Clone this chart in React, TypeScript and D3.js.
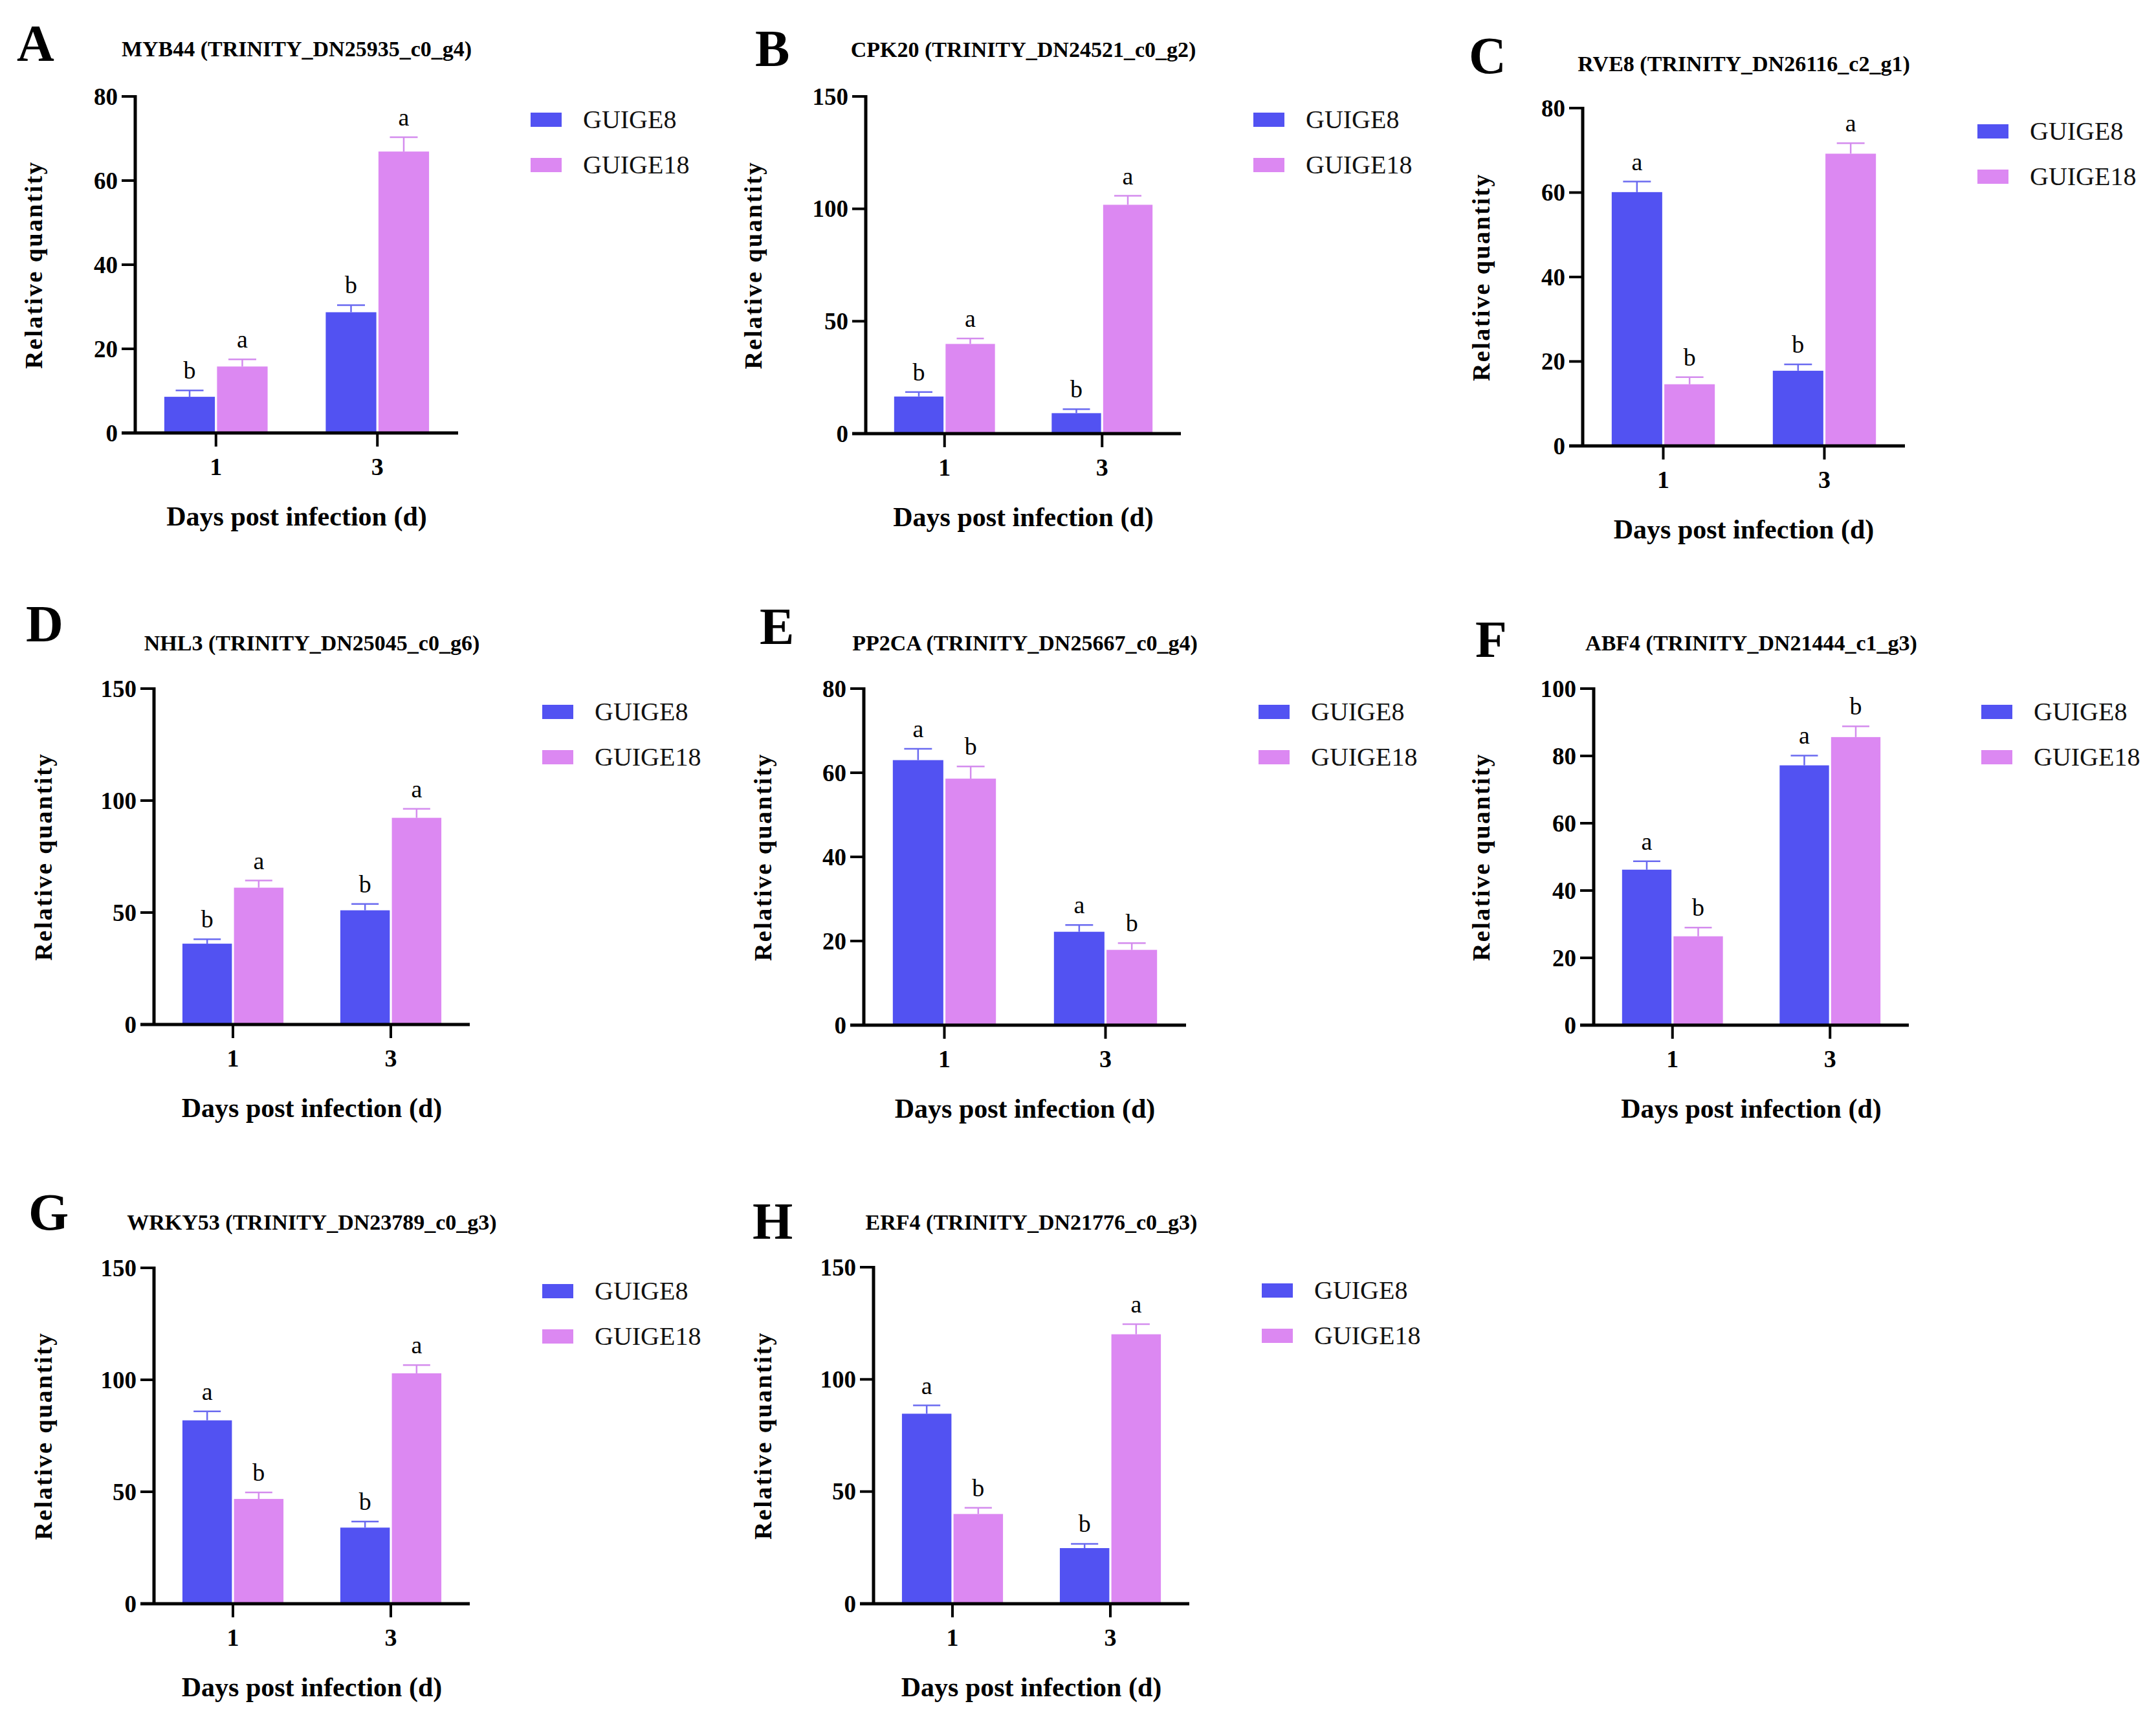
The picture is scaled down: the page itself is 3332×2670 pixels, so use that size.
import React from "react";
import * as d3 from "d3";

// ---------- data ----------
const days = ["1", "3"];
const seriesNames = ["GUIGE8", "GUIGE18"];
const seriesColors = ["#5252F2", "#DC88F2"];
const errColors = ["#6A6AF0", "#D48CEE"];

const panelLetters = ["A", "B", "C", "D", "E", "F", "G", "H"];
const panelTitles = [
  "MYB44 (TRINITY_DN25935_c0_g4)",
  "CPK20 (TRINITY_DN24521_c0_g2)",
  "RVE8 (TRINITY_DN26116_c2_g1)",
  "NHL3 (TRINITY_DN25045_c0_g6)",
  "PP2CA (TRINITY_DN25667_c0_g4)",
  "ABF4 (TRINITY_DN21444_c1_g3)",
  "WRKY53 (TRINITY_DN23789_c0_g3)",
  "ERF4 (TRINITY_DN21776_c0_g3)",
];
const yMaxes = [80, 150, 80, 150, 80, 100, 150, 150];
const yTickSteps = [20, 50, 20, 50, 20, 20, 50, 50];

// means per panel: [day1, day3]
const guige8Mean = [
  [8.6, 28.7], [16.5, 9.1], [60.1, 17.8], [36.1, 51.0],
  [63.0, 22.2], [46.2, 77.2], [81.9, 34.0], [84.7, 24.8],
];
const guige8Err = [
  [1.5, 1.7], [2.0, 1.8], [2.5, 1.5], [2.0, 2.8],
  [2.7, 1.6], [2.5, 2.9], [4.0, 2.7], [3.7, 1.9],
];
const guige18Mean = [
  [15.8, 66.9], [39.9, 101.8], [14.6, 69.2], [61.1, 92.3],
  [58.6, 17.9], [26.4, 85.6], [46.8, 102.9], [40.0, 120.1],
];
const guige18Err = [
  [1.7, 3.4], [2.4, 4.0], [1.7, 2.5], [3.2, 4.0],
  [2.9, 1.6], [2.6, 3.2], [2.9, 3.7], [2.8, 4.5],
];
const guige8Letters = [
  ["b", "b"], ["b", "b"], ["a", "b"], ["b", "b"],
  ["a", "a"], ["a", "a"], ["a", "b"], ["a", "b"],
];
const guige18Letters = [
  ["a", "a"], ["a", "a"], ["b", "a"], ["a", "a"],
  ["b", "b"], ["b", "b"], ["b", "a"], ["b", "a"],
];

const xAxisTitle = "Days post infection (d)";
const yAxisTitle = "Relative quantity";

// ---------- layout ----------
const W = 3332;
const H = 2670;
// [axisX, xEnd, top, base, letterX, letterBaseline, titleBaseline, yTitleX]
const layout = [
  [209, 708, 149, 669, 26, 94, 87, 65],
  [1338, 1825, 149, 670, 1167, 102, 88, 1177],
  [2446, 2944, 167, 689, 2270, 113, 110, 2302],
  [238, 726, 1064, 1583, 40, 991, 1005, 80],
  [1335, 1833, 1064, 1584, 1174, 995, 1005, 1192],
  [2463, 2950, 1064, 1584, 2280, 1015, 1005, 2302],
  [238, 726, 1959, 2478, 44, 1900, 1900, 80],
  [1350, 1838, 1958, 2478, 1163, 1914, 1900, 1192],
];

const FONT = "'Liberation Serif', 'Times New Roman', Times, serif";

function Panel({ i }: { i: number }) {
  const [axisX, xEnd, top, base, letterX, letterY, titleY, yTitleX] = layout[i];
  const yMax = yMaxes[i];
  const y = d3.scaleLinear().domain([0, yMax]).range([base, top]);
  const x0 = d3
    .scaleBand<string>()
    .domain(days)
    .range([axisX, xEnd])
    .paddingInner(0.36)
    .paddingOuter(0.18);
  const x1 = d3
    .scaleBand<string>()
    .domain(seriesNames)
    .range([0, x0.bandwidth()])
    .paddingInner(0.04)
    .paddingOuter(0);
  const ticks = d3.range(0, yMax + 0.001, yTickSteps[i]);
  const means = [guige8Mean[i], guige18Mean[i]];
  const errs = [guige8Err[i], guige18Err[i]];
  const letters = [guige8Letters[i], guige18Letters[i]];
  const cx = (axisX + xEnd) / 2;
  const cy = (top + base) / 2;
  const legX = xEnd + 112;

  return (
    <g>
      <text x={letterX} y={letterY} fontFamily={FONT} fontWeight="bold" fontSize={80} fill="#000">
        {panelLetters[i]}
      </text>
      <text x={cx} y={titleY} fontFamily={FONT} fontWeight="bold" fontSize={34} textAnchor="middle" fill="#000">
        {panelTitles[i]}
      </text>

      {/* bars */}
      {days.map((d, di) =>
        seriesNames.map((s, si) => {
          const bx = (x0(d) as number) + (x1(s) as number);
          const bw = x1.bandwidth();
          const m = means[si][di];
          const e = errs[si][di];
          const mid = bx + bw / 2;
          const capW = bw * 0.55;
          return (
            <g key={d + s}>
              <rect x={bx} y={y(m)} width={bw} height={base - y(m)} fill={seriesColors[si]} />
              <line x1={mid} x2={mid} y1={y(m)} y2={y(m + e)} stroke={errColors[si]} strokeWidth={2.5} />
              <line x1={mid - capW / 2} x2={mid + capW / 2} y1={y(m + e)} y2={y(m + e)} stroke={errColors[si]} strokeWidth={2.5} />
              <text x={mid} y={y(m + e) - 18} fontFamily={FONT} fontSize={38} textAnchor="middle" fill="#000">
                {letters[si][di]}
              </text>
            </g>
          );
        })
      )}

      {/* y axis */}
      <line x1={axisX} x2={axisX} y1={top - 2} y2={base + 2} stroke="#000" strokeWidth={5} />
      {ticks.map((t) => (
        <g key={t}>
          <line x1={axisX - 21} x2={axisX} y1={y(t)} y2={y(t)} stroke="#000" strokeWidth={4} />
          <text
            x={axisX - 27}
            y={y(t)}
            dy="0.34em"
            fontFamily={FONT}
            fontWeight="bold"
            fontSize={37}
            textAnchor="end"
            fill="#000"
          >
            {t}
          </text>
        </g>
      ))}

      {/* x axis */}
      <line x1={axisX - 21} x2={xEnd} y1={base} y2={base} stroke="#000" strokeWidth={5} />
      {days.map((d) => {
        const tx = (x0(d) as number) + x0.bandwidth() / 2;
        return (
          <g key={d}>
            <line x1={tx} x2={tx} y1={base} y2={base + 21} stroke="#000" strokeWidth={4} />
            <text x={tx} y={base + 65} fontFamily={FONT} fontWeight="bold" fontSize={38} textAnchor="middle" fill="#000">
              {d}
            </text>
          </g>
        );
      })}

      <text x={cx} y={base + 143} fontFamily={FONT} fontWeight="bold" fontSize={42} textAnchor="middle" fill="#000">
        {xAxisTitle}
      </text>
      <text
        transform={`translate(${yTitleX},${cy}) rotate(-90)`}
        fontFamily={FONT}
        fontWeight="bold"
        fontSize={38}
        letterSpacing={2.5}
        textAnchor="middle"
        fill="#000"
      >
        {yAxisTitle}
      </text>

      {/* legend */}
      {seriesNames.map((s, si) => {
        const ry = top + 36 + si * 70;
        return (
          <g key={s}>
            <rect x={legX} y={ry - 11} width={48} height={22} fill={seriesColors[si]} />
            <text x={legX + 81} y={ry + 13} fontFamily={FONT} fontSize={40} fill="#111">
              {s}
            </text>
          </g>
        );
      })}
    </g>
  );
}

export default function App() {
  return (
    <svg
      width={W}
      height={H}
      viewBox={`0 0 ${W} ${H}`}
      style={{ position: "absolute", left: 0, top: 0, background: "#fff" }}
    >
      <rect x={0} y={0} width={W} height={H} fill="#fff" />
      {panelLetters.map((_, i) => (
        <Panel key={i} i={i} />
      ))}
    </svg>
  );
}
